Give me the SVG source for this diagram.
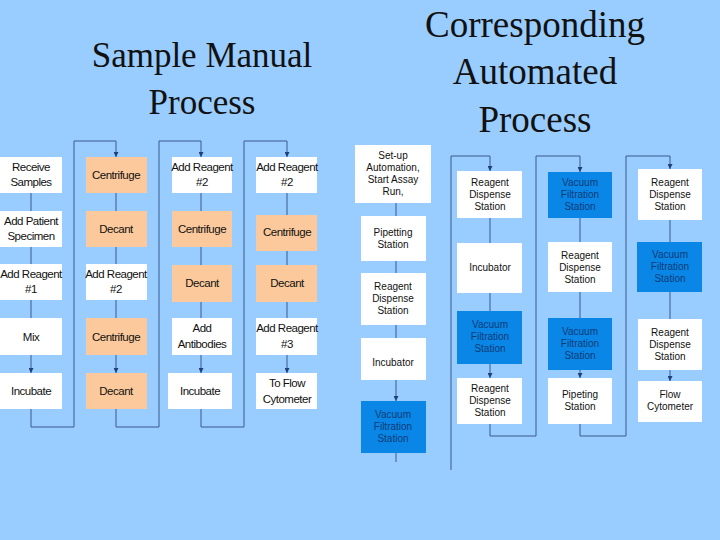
<svg xmlns="http://www.w3.org/2000/svg" width="720" height="540" viewBox="0 0 720 540">
<defs>
<marker id="a" viewBox="0 0 6 6" refX="6" refY="3" markerWidth="5" markerHeight="5" orient="auto"><path d="M0,0L6,3L0,6z" fill="#1f3f7f"/></marker>
<style>
.w{fill:#fff}.o{fill:#fbc99b}.b{fill:#0a86e6}
.t{font-family:"Liberation Sans Narrow","Liberation Sans",Arial,sans-serif;font-size:11.5px;fill:#111;text-anchor:middle;letter-spacing:-0.5px}
.r{font-family:"Liberation Sans",Arial,sans-serif;font-size:10px;fill:#111;text-anchor:middle}
.bt{fill:#0d3c78}
.h{font-family:"Liberation Serif","Times New Roman",serif;fill:#111;text-anchor:middle}
.c{fill:none;stroke:#3a5a8a;stroke-width:1}
.c2{fill:none;stroke:#3a5a8a;stroke-width:1;marker-end:url(#a)}
</style>
</defs>
<rect width="720" height="540" fill="#99ccff"/>
<text class="h" font-size="35" x="202" y="67">Sample Manual</text>
<text class="h" font-size="35" x="202" y="114">Process</text>
<text class="h" font-size="37" x="535" y="37">Corresponding</text>
<text class="h" font-size="37" x="535" y="84">Automated</text>
<text class="h" font-size="37" x="535" y="132">Process</text>
<g id="connectors">
<path class="c2" d="M31,193V211M31,247V264M31,300V318M31,355V373"/>
<path class="c" d="M31,409V427H74V141H116"/><path class="c2" d="M116,141V157"/>
<path class="c2" d="M116,193V211M116,247V264M116,300V318M116,355V373"/>
<path class="c" d="M116,409V427H159V141H201"/><path class="c2" d="M201,141V157"/>
<path class="c2" d="M201,193V211M201,247V265M201,302V318M201,355V373"/>
<path class="c" d="M201,409V427H244V141H287"/><path class="c2" d="M287,141V157"/>
<path class="c2" d="M287,193V215M287,251V265M287,302V318M287,355V373"/>
<path class="c2" d="M396,203V216M396,261V273M396,325V338M396,380V401"/>
<path class="c" d="M396,453V462M451,470V156H490"/><path class="c2" d="M490,156V171"/>
<path class="c2" d="M490,218V243M490,293V311M490,364V378"/>
<path class="c" d="M490,424V436H536V156H580"/><path class="c2" d="M580,156V172"/>
<path class="c2" d="M580,218V242M580,292V318M580,370V378"/>
<path class="c" d="M580,424V436H626V156H670"/><path class="c2" d="M670,156V169"/>
<path class="c2" d="M670,220V242M670,292V319M670,370V381"/>
</g>
<g id="manual">
<g id="m1"><rect class="w" x="0" y="157" width="62" height="36"/><text class="t" x="31" y="171">Receive</text><text class="t" x="31" y="186">Samples</text></g>
<g id="m2"><rect class="w" x="0" y="211" width="62" height="36"/><text class="t" x="31" y="225">Add Patient</text><text class="t" x="31" y="240">Specimen</text></g>
<g id="m3"><rect class="w" x="0" y="264" width="62" height="36"/><text class="t" x="31" y="278">Add Reagent</text><text class="t" x="31" y="293">#1</text></g>
<g id="m4"><rect class="w" x="0" y="318" width="62" height="37"/><text class="t" x="31" y="341">Mix</text></g>
<g id="m5"><rect class="w" x="0" y="373" width="62" height="36"/><text class="t" x="31" y="395">Incubate</text></g>
<g id="m6"><rect class="o" x="86" y="157" width="61" height="36"/><text class="t" x="116" y="179">Centrifuge</text></g>
<g id="m7"><rect class="o" x="86" y="211" width="61" height="36"/><text class="t" x="116" y="233">Decant</text></g>
<g id="m8"><rect class="w" x="86" y="264" width="61" height="36"/><text class="t" x="116" y="278">Add Reagent</text><text class="t" x="116" y="293">#2</text></g>
<g id="m9"><rect class="o" x="86" y="318" width="61" height="37"/><text class="t" x="116" y="341">Centrifuge</text></g>
<g id="m10"><rect class="o" x="86" y="373" width="61" height="36"/><text class="t" x="116" y="395">Decant</text></g>
<g id="m11"><rect class="w" x="172" y="157" width="60" height="36"/><text class="t" x="202" y="171">Add Reagent</text><text class="t" x="202" y="186">#2</text></g>
<g id="m12"><rect class="o" x="172" y="211" width="60" height="36"/><text class="t" x="202" y="233">Centrifuge</text></g>
<g id="m13"><rect class="o" x="172" y="265" width="60" height="37"/><text class="t" x="202" y="287">Decant</text></g>
<g id="m14"><rect class="w" x="172" y="318" width="60" height="37"/><text class="t" x="202" y="332">Add</text><text class="t" x="202" y="348">Antibodies</text></g>
<g id="m15"><rect class="w" x="168" y="373" width="64" height="36"/><text class="t" x="200" y="395">Incubate</text></g>
<g id="m16"><rect class="w" x="256" y="157" width="61" height="36"/><text class="t" x="287" y="171">Add Reagent</text><text class="t" x="287" y="186">#2</text></g>
<g id="m17"><rect class="o" x="256" y="215" width="61" height="36"/><text class="t" x="287" y="236">Centrifuge</text></g>
<g id="m18"><rect class="o" x="256" y="265" width="61" height="37"/><text class="t" x="287" y="287">Decant</text></g>
<g id="m19"><rect class="w" x="256" y="318" width="61" height="37"/><text class="t" x="287" y="332">Add Reagent</text><text class="t" x="287" y="348">#3</text></g>
<g id="m20"><rect class="w" x="256" y="373" width="61" height="36"/><text class="t" x="287" y="387">To Flow</text><text class="t" x="287" y="403">Cytometer</text></g>
</g>
<g id="auto">
<g id="a1"><rect class="w" x="355" y="145" width="76" height="58"/><text class="r" x="393" y="159">Set-up</text><text class="r" x="393" y="171">Automation,</text><text class="r" x="393" y="183">Start Assay</text><text class="r" x="393" y="195">Run,</text></g>
<g id="a2"><rect class="w" x="361" y="216" width="65" height="45"/><text class="r" x="393" y="236">Pipetting</text><text class="r" x="393" y="248">Station</text></g>
<g id="a3"><rect class="w" x="361" y="273" width="65" height="52"/><text class="r" x="393" y="290">Reagent</text><text class="r" x="393" y="302">Dispense</text><text class="r" x="393" y="314">Station</text></g>
<g id="a4"><rect class="w" x="361" y="338" width="65" height="42"/><text class="r" x="393" y="366">Incubator</text></g>
<g id="a5"><rect class="b" x="361" y="401" width="65" height="52"/><text class="r bt" x="393" y="418">Vacuum</text><text class="r bt" x="393" y="430">Filtration</text><text class="r bt" x="393" y="442">Station</text></g>
<g id="a6"><rect class="w" x="457" y="171" width="65" height="47"/><text class="r" x="490" y="186">Reagent</text><text class="r" x="490" y="198">Dispense</text><text class="r" x="490" y="210">Station</text></g>
<g id="a7"><rect class="w" x="457" y="243" width="65" height="50"/><text class="r" x="490" y="271">Incubator</text></g>
<g id="a8"><rect class="b" x="457" y="311" width="65" height="53"/><text class="r bt" x="490" y="328">Vacuum</text><text class="r bt" x="490" y="340">Filtration</text><text class="r bt" x="490" y="352">Station</text></g>
<g id="a9"><rect class="w" x="457" y="378" width="65" height="46"/><text class="r" x="490" y="392">Reagent</text><text class="r" x="490" y="404">Dispense</text><text class="r" x="490" y="416">Station</text></g>
<g id="a10"><rect class="b" x="548" y="172" width="64" height="46"/><text class="r bt" x="580" y="186">Vacuum</text><text class="r bt" x="580" y="198">Filtration</text><text class="r bt" x="580" y="210">Station</text></g>
<g id="a11"><rect class="w" x="548" y="242" width="64" height="50"/><text class="r" x="580" y="259">Reagent</text><text class="r" x="580" y="271">Dispense</text><text class="r" x="580" y="283">Station</text></g>
<g id="a12"><rect class="b" x="548" y="318" width="64" height="52"/><text class="r bt" x="580" y="335">Vacuum</text><text class="r bt" x="580" y="347">Filtration</text><text class="r bt" x="580" y="359">Station</text></g>
<g id="a13"><rect class="w" x="548" y="378" width="64" height="46"/><text class="r" x="580" y="398">Pipeting</text><text class="r" x="580" y="410">Station</text></g>
<g id="a14"><rect class="w" x="638" y="169" width="64" height="51"/><text class="r" x="670" y="186">Reagent</text><text class="r" x="670" y="198">Dispense</text><text class="r" x="670" y="210">Station</text></g>
<g id="a15"><rect class="b" x="637" y="242" width="65" height="50"/><text class="r bt" x="670" y="258">Vacuum</text><text class="r bt" x="670" y="270">Filtration</text><text class="r bt" x="670" y="282">Station</text></g>
<g id="a16"><rect class="w" x="638" y="319" width="64" height="51"/><text class="r" x="670" y="336">Reagent</text><text class="r" x="670" y="348">Dispense</text><text class="r" x="670" y="360">Station</text></g>
<g id="a17"><rect class="w" x="638" y="381" width="64" height="41"/><text class="r" x="670" y="398">Flow</text><text class="r" x="670" y="410">Cytometer</text></g>
</g>
</svg>
